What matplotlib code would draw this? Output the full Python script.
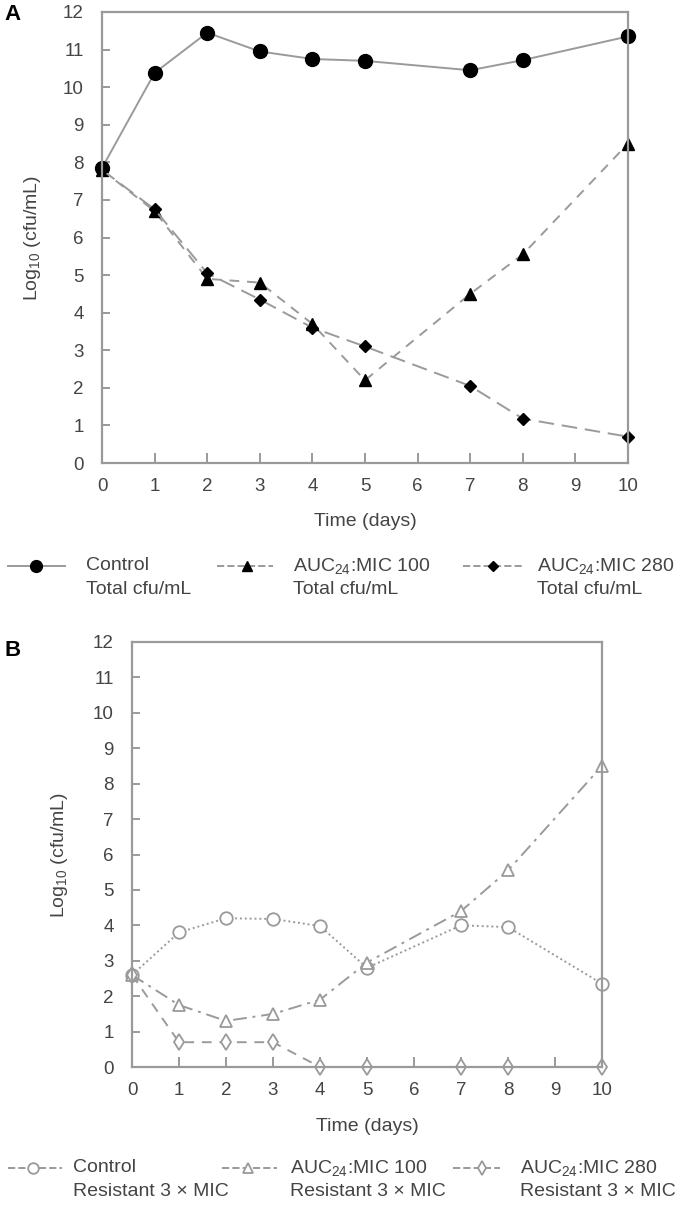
import matplotlib
matplotlib.use("Agg")
import matplotlib.pyplot as plt
from matplotlib.lines import Line2D

plt.rcParams['font.family'] = ['Liberation Sans', 'DejaVu Sans']
plt.rcParams['mathtext.fontset'] = 'custom'
plt.rcParams['mathtext.rm'] = 'Liberation Sans'
plt.rcParams['mathtext.it'] = 'Liberation Sans'
plt.rcParams['mathtext.bf'] = 'Liberation Sans:bold'
plt.rcParams['mathtext.default'] = 'regular'

days = [0, 1, 2, 3, 4, 5, 7, 8, 10]
xticks = list(range(0, 11))
yticks = list(range(0, 13))

# Panel A: total cfu/mL
a_control = [7.85, 10.38, 11.45, 10.95, 10.75, 10.7, 10.45, 10.72, 11.35]
a_auc100 = [7.8, 6.7, 4.9, 4.8, 3.7, 2.2, 4.5, 5.55, 8.5]
a_auc280 = [7.8, 6.75, 5.05, 4.35, 3.6, 3.1, 2.05, 1.18, 0.7]

# Panel B: resistant 3 x MIC
b_control = [2.6, 3.8, 4.2, 4.18, 3.98, 2.8, 4.0, 3.95, 2.35]
b_auc100 = [2.6, 1.75, 1.3, 1.5, 1.9, 2.95, 4.4, 5.55, 8.5]
b_auc280 = [2.6, 0.7, 0.7, 0.7, 0.0, 0.0, 0.0, 0.0, 0.0]

series_labels = ["Control", "AUC$_{24}$:MIC 100", "AUC$_{24}$:MIC 280"]
sub_a = "Total cfu/mL"
sub_b = "Resistant 3 \u00d7 MIC"

W, H = 680, 1205
fig = plt.figure(figsize=(6.8, 12.05), dpi=100)

GRAY = '#9a9a9a'
TXT = '#444444'
FS_TICK = 13.5
FS_LAB = 14

def fx(px):
    return px / W

def fy(py):
    return 1 - py / H

def style_ax(ax, x0, x1, y0, y1, ylab_x, xlab_y):
    ax.set_xlim(0, 10)
    ax.set_ylim(0, 12)
    ax.set_xticks(xticks)
    ax.set_yticks(yticks)
    for s in ax.spines.values():
        s.set_color(GRAY)
        s.set_linewidth(1.6)
    ax.tick_params(axis='x', direction='in', length=7, width=1.4, color=GRAY,
                   labelsize=FS_TICK, labelcolor=TXT, pad=11)
    ax.tick_params(axis='y', direction='in', length=6, width=1.4, color=GRAY,
                   labelsize=FS_TICK, labelcolor=TXT, pad=13)
    ax.set_xlabel("Time (days)", fontsize=FS_LAB, color=TXT)
    ax.set_ylabel("Log$_{10}$ (cfu/mL)", fontsize=FS_LAB, color=TXT)
    ax.yaxis.set_label_coords((ylab_x - x0) / (x1 - x0), 0.5)
    ax.xaxis.set_label_coords(0.5, (y1 - xlab_y) / (y1 - y0))

# ---------- Panel A ----------
ax0, ax1, ay0, ay1 = 102, 628, 12, 463
axA = fig.add_axes([fx(ax0), fy(ay1), fx(ax1 - ax0), (ay1 - ay0) / H])
style_ax(axA, ax0, ax1, ay0, ay1, 43, 513)
kwA = dict(color=GRAY, markerfacecolor='black', markeredgecolor='black', clip_on=False)
lA1, = axA.plot(days, a_control, '-', marker='o', markersize=10, linewidth=1.4, **kwA)
lA2, = axA.plot(days, a_auc100, linestyle=(0, (5, 4)), marker='^', markersize=8.5, linewidth=1.4, **kwA)
lA3, = axA.plot(days, a_auc280, linestyle=(0, (8, 4)), marker='D', markersize=6, linewidth=1.4, **kwA)
fig.text(fx(4), fy(15), "A", fontsize=16, fontweight='bold', color='black', va='center', ha='left')

# ---------- Panel B ----------
bx0, bx1, by0, by1 = 132, 602, 642, 1067
axB = fig.add_axes([fx(bx0), fy(by1), fx(bx1 - bx0), (by1 - by0) / H])
style_ax(axB, bx0, bx1, by0, by1, 70, 1118)
kwB = dict(color=GRAY, markerfacecolor='white', markeredgecolor=GRAY, markeredgewidth=1.3, clip_on=False)
lB1, = axB.plot(days, b_control, linestyle=(0, (1, 1.5)), marker='o', markersize=9, linewidth=1.4, **kwB)
lB2, = axB.plot(days, b_auc100, linestyle=(0, (7, 3, 1.5, 3)), marker='^', markersize=9, linewidth=1.4, **kwB)
lB3, = axB.plot(days, b_auc280, linestyle=(0, (5, 4)), marker='d', markersize=8.5, linewidth=1.4, **kwB)
fig.text(fx(4), fy(650), "B", fontsize=16, fontweight='bold', color='black', va='center', ha='left')

# ---------- Legends (manual) ----------
def legend_row(lines, y1, y2, sub, hx, mx, tx):
    for ln, lab, (h0, h1), m0, t0 in zip(lines, series_labels, hx, mx, tx):
        h = Line2D([fx(h0), fx(h1)], [fy(y1), fy(y1)], transform=fig.transFigure,
                   color=ln.get_color(), linestyle=ln.get_linestyle(), linewidth=1.4)
        fig.add_artist(h)
        m = Line2D([fx(m0)], [fy(y1)], transform=fig.transFigure, linestyle='none',
                   marker=ln.get_marker(), markersize=ln.get_markersize() * 0.85,
                   markerfacecolor=ln.get_markerfacecolor(), markeredgecolor=ln.get_markeredgecolor(),
                   markeredgewidth=ln.get_markeredgewidth())
        fig.add_artist(m)
        fig.text(fx(t0), fy(y1), lab, fontsize=FS_LAB, color=TXT, va='center', ha='left')
        fig.text(fx(t0), fy(y2), sub, fontsize=FS_LAB, color=TXT, va='center', ha='left')

legend_row([lA1, lA2, lA3], 566, 590, sub_a,
           [(8, 65), (217, 273), (463, 522)], [36, 247, 493], [86, 293, 537])
legend_row([lB1, lB2, lB3], 1168, 1192, sub_b,
           [(8, 62), (222, 277), (453, 500)], [33, 248, 482], [73, 290, 520])

fig.savefig("out.png", dpi=100, facecolor='white')
